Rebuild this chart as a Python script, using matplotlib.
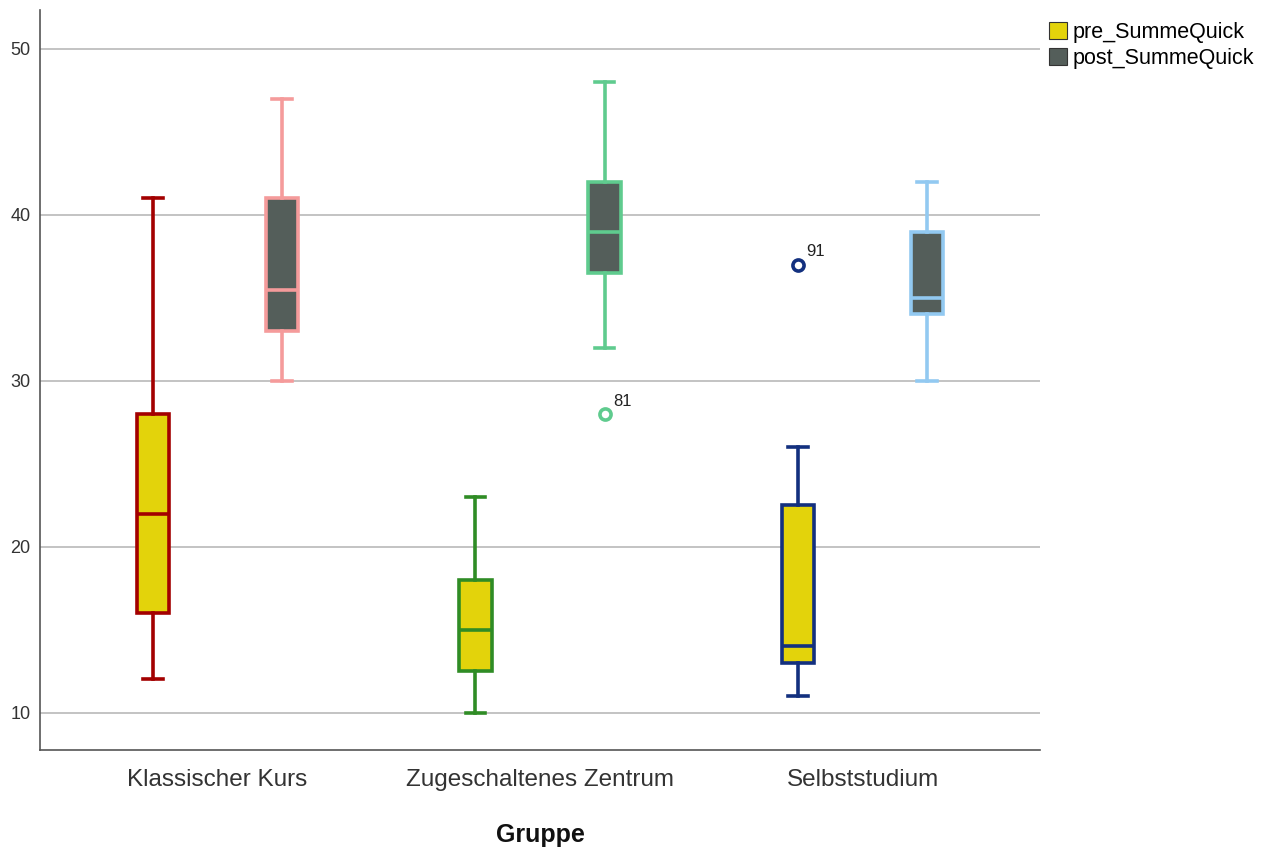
import matplotlib
matplotlib.use("Agg")
import matplotlib.pyplot as plt
from matplotlib.patches import Patch

plt.rcParams['font.family'] = ['Liberation Sans', 'DejaVu Sans']

groups = ["Klassischer Kurs", "Zugeschaltenes Zentrum", "Selbststudium"]
series = ["pre_SummeQuick", "post_SummeQuick"]

# per group: [pre, post]
whislo = [[12, 30], [10, 32], [11, 30]]
q1 = [[16, 33], [12.5, 36.5], [13, 34]]
med = [[22, 35.5], [15, 39], [14, 35]]
q3 = [[28, 41], [18, 42], [22.5, 39]]
whishi = [[41, 47], [23, 48], [26, 42]]
fliers = [[[], []], [[], [28]], [[37], []]]
flier_ids = [[[], []], [[], ["81"]], [["91"], []]]

fill_colors = ["#E3D30B", "#545E5A"]
edge_colors = [["#A30000", "#F59B9B"], ["#2F8C25", "#5FCB8E"], ["#13307F", "#92C9F1"]]

fig = plt.figure(figsize=(12.65, 8.47), dpi=100)
ax = fig.add_axes([40/1265, 97/847, 1000/1265, 740/847])

offset = 0.2
for gi in range(len(groups)):
    for si in range(len(series)):
        st = dict(whislo=whislo[gi][si], q1=q1[gi][si], med=med[gi][si],
                  q3=q3[gi][si], whishi=whishi[gi][si], fliers=fliers[gi][si])
        ec = edge_colors[gi][si]
        pos = gi + (-offset if si == 0 else offset)
        ax.bxp([st], positions=[pos], widths=0.1, patch_artist=True,
               showfliers=True, capwidths=0.06,
               boxprops=dict(facecolor=fill_colors[si], edgecolor=ec, linewidth=2.6),
               medianprops=dict(color=ec, linewidth=2.6),
               whiskerprops=dict(color=ec, linewidth=2.6),
               capprops=dict(color=ec, linewidth=2.6),
               flierprops=dict(marker='o', markersize=8, markerfacecolor='white',
                               markeredgecolor=ec, markeredgewidth=2.6),
               zorder=3)
        for v, lab in zip(fliers[gi][si], flier_ids[gi][si]):
            ax.annotate(lab, (pos, v), xytext=(6, 6), textcoords='offset points',
                        fontsize=12, color='#222222')

ax.set_xlim(-0.55, 2.55)
ax.set_ylim(7.75, 52.35)
ax.set_yticks([10, 20, 30, 40, 50])
ax.set_xticks(range(len(groups)))
ax.set_xticklabels(groups, fontsize=17.5, color='#333333')
ax.tick_params(axis='x', length=0, pad=14)
ax.tick_params(axis='y', length=0, labelsize=13, colors='#333333', pad=7)
ax.yaxis.grid(True, color='#BEBEBE', linewidth=1.3, zorder=0)
ax.set_axisbelow(True)
for s in ['top', 'right']:
    ax.spines[s].set_visible(False)
for s in ['left', 'bottom']:
    ax.spines[s].set_color('#555555')
    ax.spines[s].set_linewidth(1.2)
ax.set_xlabel("Gruppe", fontsize=18, fontweight='bold', labelpad=23, color='#111111')

handles = [Patch(facecolor=fill_colors[i], edgecolor='#333333', linewidth=0.8, label=series[i])
           for i in range(len(series))]
fig.legend(handles=handles, loc='upper left', bbox_to_anchor=(1040/1265, 1 - 13/847),
           frameon=False, fontsize=15.5, handlelength=0.85, handleheight=0.85,
           handletextpad=0.25, labelspacing=0.25, borderaxespad=0)

fig.savefig("out.png", dpi=100)
